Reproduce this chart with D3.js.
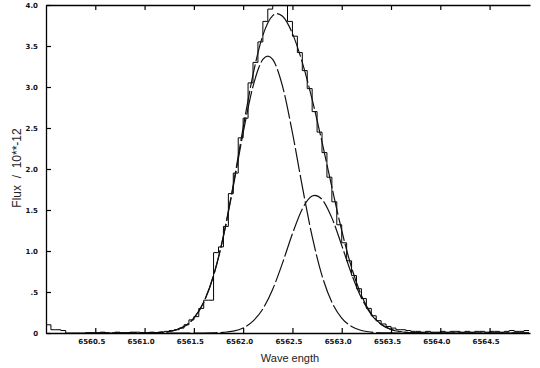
<!DOCTYPE html>
<html>
<head>
<meta charset="utf-8">
<script src="https://cdn.jsdelivr.net/npm/d3@7"></script>
<style>
  body { margin: 0; background: #fff; }
  svg { display: block; }
</style>
</head>
<body>
<svg id="chart" width="540" height="368"></svg>
<script>
// observed histogram: bins of 0.05 A starting at 6560.0
const binStart = 6560.0;
const binWidth = 0.05;
const histFlux = [
  0.10, 0.04, 0.04, 0.03, 0, 0, 0, 0, 0, 0,
  0, 0.01, 0, 0, 0.01, 0, 0, 0.01, 0.01, 0,
  0.00, 0.01, 0.00, 0.01, 0.02, 0.03, 0.04, 0.06, 0.10, 0.16,
  0.20, 0.30, 0.40, 0.40, 0.98, 1.05, 1.30, 1.70, 1.95, 2.38,
  2.62, 3.05, 3.30, 3.55, 3.80, 3.95, 4.05, 4.10, 4.05, 3.80,
  3.62, 3.42, 3.20, 2.98, 2.70, 2.45, 2.20, 1.90, 1.60, 1.32,
  1.10, 0.88, 0.70, 0.54, 0.42, 0.30, 0.21, 0.15, 0.11, 0.08,
  0.06, 0.04, 0.04, 0.03, 0.02, 0.02, 0.01, 0.02, 0.01, 0.01,
  0.02, 0.01, 0.02, 0.02, 0.01, 0.02, 0.01, 0.02, 0.02, 0.01,
  0.02, 0.02, 0.01, 0.02, 0.03, 0.02, 0.02, 0.03
];

// fitted curves sampled every 0.1 A
const fitWave = [
  6560.4, 6560.5, 6560.6, 6560.7, 6560.8, 6560.9, 6561.0, 6561.1, 6561.2, 6561.3,
  6561.4, 6561.5, 6561.6, 6561.7, 6561.8, 6561.9, 6562.0, 6562.1, 6562.2, 6562.3,
  6562.4, 6562.5, 6562.6, 6562.7, 6562.8, 6562.9, 6563.0, 6563.1, 6563.2, 6563.3,
  6563.4, 6563.5, 6563.6, 6563.7, 6563.8, 6563.9, 6564.0, 6564.1, 6564.2, 6564.3,
  6564.4, 6564.5, 6564.6, 6564.7, 6564.8, 6564.9
];
const fitTotal = [
  0, 0, 0, 0, 0, 0, 0.001, 0.003, 0.011, 0.031,
  0.079, 0.181, 0.375, 0.702, 1.186, 1.810, 2.504, 3.151, 3.630, 3.870,
  3.862, 3.652, 3.300, 2.849, 2.330, 1.779, 1.250, 0.798, 0.458, 0.235,
  0.107, 0.044, 0.015, 0.005, 0.001, 0, 0, 0, 0, 0,
  0, 0, 0, 0, 0, 0
];
const fitComp1 = [
  0, 0, 0, 0, 0, 0, 0.001, 0.003, 0.011, 0.031,
  0.079, 0.181, 0.375, 0.700, 1.178, 1.787, 2.442, 3.007, 3.336, 3.336,
  3.007, 2.442, 1.787, 1.178, 0.700, 0.375, 0.181, 0.079, 0.031, 0.011,
  0.003, 0.001, 0, 0, 0, 0, 0, 0, 0, 0,
  0, 0, 0, 0, 0, 0
];
const fitComp2 = [
  0, 0, 0, 0, 0, 0, 0, 0, 0, 0,
  0, 0, 0, 0.002, 0.008, 0.023, 0.062, 0.144, 0.294, 0.534,
  0.855, 1.210, 1.513, 1.671, 1.630, 1.404, 1.069, 0.719, 0.427, 0.224,
  0.104, 0.043, 0.015, 0.005, 0.001, 0, 0, 0, 0, 0,
  0, 0, 0, 0, 0, 0
];

const xTicks = [6560.5, 6561.0, 6561.5, 6562.0, 6562.5, 6563.0, 6563.5, 6564.0, 6564.5];
const yTicks = [0, 0.5, 1.0, 1.5, 2.0, 2.5, 3.0, 3.5, 4.0];
const yTickLabels = ['0', '.5', '1.0', '1.5', '2.0', '2.5', '3.0', '3.5', '4.0'];

const plotLeft = 46, plotRight = 530, plotTop = 5, plotBottom = 333;

const svg = d3.select('#chart');
svg.append('rect').attr('width', 540).attr('height', 368).attr('fill', '#fff');

const x = d3.scaleLinear().domain([6560.0, 6564.91]).range([plotLeft, plotRight]);
const y = d3.scaleLinear().domain([0, 4]).range([plotBottom, plotTop]);

svg.append('clipPath').attr('id', 'plot-clip')
  .append('rect').attr('x', plotLeft).attr('y', plotTop)
  .attr('width', plotRight - plotLeft).attr('height', plotBottom - plotTop);

const plot = svg.append('g').attr('clip-path', 'url(#plot-clip)');

// histogram of the data
const histPts = histFlux.map((v, i) => [binStart + i * binWidth, v]);
histPts.push([binStart + histFlux.length * binWidth, histFlux[histFlux.length - 1]]);
plot.append('path')
  .datum(histPts)
  .attr('fill', 'none')
  .attr('stroke', '#000')
  .attr('stroke-width', 1)
  .attr('d', d3.line().x(d => x(d[0])).y(d => y(d[1])).curve(d3.curveStepAfter));

// fits
const fitLine = d3.line()
  .x(d => x(d[0])).y(d => y(d[1]))
  .curve(d3.curveCardinal.tension(0));
[fitTotal, fitComp1, fitComp2].forEach(series => {
  plot.append('path')
    .datum(fitWave.map((w, i) => [w, series[i]]))
    .attr('fill', 'none')
    .attr('stroke', '#111')
    .attr('stroke-width', 1.2)
    .attr('stroke-dasharray', '24,3')
    .attr('d', fitLine);
});

// axes
const axisStyle = g => {
  g.select('.domain').attr('stroke', '#000').attr('stroke-width', 1.3);
  g.selectAll('.tick line').attr('stroke', '#000').attr('stroke-width', 1.2);
  g.selectAll('text')
    .attr('font-family', 'DejaVu Sans, sans-serif')
    .attr('font-size', 7)
    .attr('font-weight', 'bold')
    .attr('fill', '#111');
};

svg.append('g')
  .attr('transform', 'translate(0,' + plotBottom + ')')
  .call(d3.axisBottom(x).tickValues(xTicks).tickSize(-5).tickSizeOuter(0)
    .tickPadding(6).tickFormat(d3.format('.1f')))
  .call(axisStyle)
  .call(g => g.selectAll('text').attr('dx', -4));

svg.append('g')
  .attr('transform', 'translate(0,' + plotTop + ')')
  .call(d3.axisTop(x).tickValues(xTicks).tickSize(-5).tickSizeOuter(0).tickFormat(''))
  .call(axisStyle);

svg.append('g')
  .attr('transform', 'translate(' + plotLeft + ',0)')
  .call(d3.axisLeft(y).tickValues(yTicks).tickSize(-5).tickSizeOuter(0)
    .tickPadding(8).tickFormat((d, i) => yTickLabels[i]))
  .call(axisStyle);

// titles
svg.append('text')
  .attr('transform', 'translate(21,168) rotate(-90)')
  .attr('text-anchor', 'middle')
  .attr('font-family', 'Liberation Sans, sans-serif')
  .attr('font-size', 12)
  .attr('fill', '#222')
  .attr('xml:space', 'preserve')
  .text('Flux  /  10**-12');

svg.append('text')
  .attr('x', 290).attr('y', 362)
  .attr('text-anchor', 'middle')
  .attr('font-family', 'Liberation Sans, sans-serif')
  .attr('font-size', 11)
  .attr('fill', '#222')
  .text('Wave ength');
</script>
</body>
</html>
